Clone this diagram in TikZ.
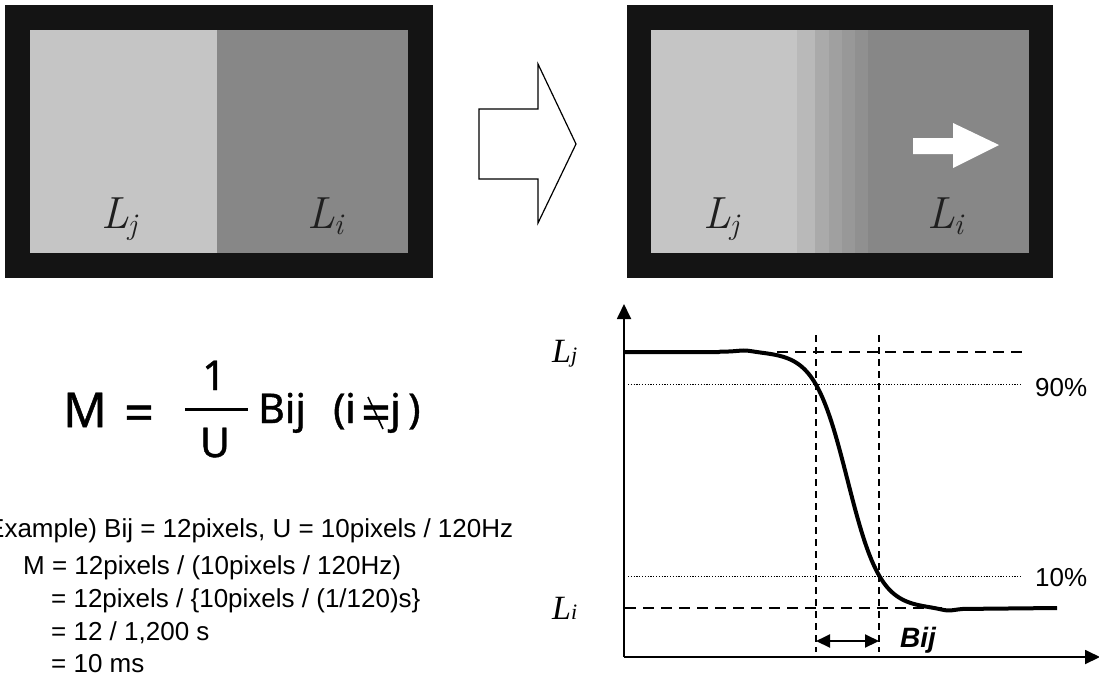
\documentclass[tikz,border=0pt]{standalone}
\usepackage{fontspec}
\newfontfamily\arial{Liberation Sans}
\newfontfamily\formfont[FakeBold=1]{Noto Sans}
\newfontfamily\timesf{Liberation Serif}
\usetikzlibrary{arrows.meta}
\definecolor{lightg}{HTML}{C5C5C5}
\definecolor{darkg}{HTML}{878787}
\definecolor{bandA}{HTML}{B9B9B9}
\definecolor{bandB}{HTML}{AAAAAA}
\definecolor{bandC}{HTML}{A0A0A0}
\definecolor{bandD}{HTML}{989898}
\definecolor{bandE}{HTML}{909090}
\newcommand{\panelL}[1]{\itshape L\kern-1pt\raisebox{-6pt}{\fontsize{30}{30}\selectfont #1}}
\tikzset{
  paneltext/.style={inner sep=0pt, anchor=base, text=black!88, font=\fontsize{45}{45}\selectfont},
  extext/.style={inner sep=0pt, anchor=base west, font=\arial\fontsize{26}{26}\selectfont},
  fm/.style={inner sep=0pt, anchor=base west, font=\formfont\fontsize{41}{41}\selectfont},
  glab/.style={inner sep=0pt, anchor=base west, font=\timesf\itshape\fontsize{34}{34}\selectfont},
  pct/.style={inner sep=0pt, anchor=west, font=\arial\fontsize{26}{26}\selectfont},
  thickcurve/.style={line width=4pt, line join=round},
  axisline/.style={line width=1.8pt, -{Triangle[length=15pt,width=14pt]}},
  refdash/.style={line width=1.6pt, dash pattern=on 11pt off 7pt},
  vdash/.style={line width=1.4pt, dash pattern=on 7pt off 5pt},
  pdot/.style={line width=1pt, dash pattern=on 1.2pt off 1.6pt},
  bijarrow/.style={line width=2pt, {Triangle[length=14pt,width=13pt]}-{Triangle[length=14pt,width=13pt]}},
  blockarrow/.style={draw=black, line width=1.2pt, fill=white, line join=miter}
}
\begin{document}
\begin{tikzpicture}[x=1pt,y=-1pt]
\useasboundingbox (0,0) rectangle (1099,678);

% ---------- left panel ----------
\fill[black!92] (5,5) rectangle (433,278);
\fill[lightg] (30,30) rectangle (217,253);
\fill[darkg] (217,30) rectangle (408,253);
\node[paneltext] (lLj) at (119,228) {\panelL{j}};
\node[paneltext] (lLi) at (325,228) {\panelL{i}};

% ---------- block arrow ----------
\draw[blockarrow] (479,109) -- (538,109) -- (538,64) -- (576,144) -- (538,223) -- (538,179) -- (479,179) -- cycle;

% ---------- right panel ----------
\fill[black!92] (627,5) rectangle (1053,278);
\fill[lightg] (651,30) rectangle (797,253);
\fill[bandA] (797,30) rectangle (815,253);
\fill[bandB] (815,30) rectangle (829,253);
\fill[bandC] (829,30) rectangle (842,253);
\fill[bandD] (842,30) rectangle (855,253);
\fill[bandE] (855,30) rectangle (868,253);
\fill[darkg] (868,30) rectangle (1029,253);
\fill[white] (913,138) -- (953,138) -- (953,123) -- (999,145) -- (953,168) -- (953,154) -- (913,154) -- cycle;
\node[paneltext] (rLj) at (721,228) {\panelL{j}};
\node[paneltext] (rLi) at (945,228) {\panelL{i}};

% ---------- formula ----------
\node[inner sep=0pt, anchor=base west, font=\formfont\fontsize{48}{48}\selectfont] (M) at (63,427) {M};
\node[inner sep=0pt, anchor=base west, font=\formfont\fontsize{52}{52}\selectfont] (eq1) at (124,431) {=};
\node[fm, anchor=base] (one) at (214,390) {1};
\node[fm, anchor=base] (U) at (215,457) {U};
\draw[line width=3pt] (185,409) -- (248,409);
\node[fm] (Bij) at (258,423) {Bij};
\node[fm] (lp) at (333,423) {(};
\node[fm] (ii) at (345,423) {i};
\node[inner sep=0pt, anchor=base west, font=\formfont\fontsize{52}{52}\selectfont] (neq) at (361,431) {=};
\draw[line width=1.6pt] (368,397) -- (383,429);
\node[fm] (jj) at (390,423) {j};
\node[fm] (rp) at (408,423) {)};

% ---------- example ----------
\node[extext] (ex1) at (-13,537) {Example) Bij = 12pixels, U = 10pixels / 120Hz};
\node[extext] (ex2) at (23,574) {M = 12pixels / (10pixels / 120Hz)};
\node[extext] (ex3) at (51,607) {= 12pixels / \{10pixels / (1/120)s\}};
\node[extext] (ex4) at (51,640) {= 12 / 1,200 s};
\node[extext] (ex5) at (51,672) {= 10 ms};

% ---------- graph ----------
\coordinate (O) at (624,657);
\coordinate (ytop) at (624,304);
\coordinate (xend) at (1100,657);
\draw[pdot] (628,384) -- (1022,384);
\draw[pdot] (628,576) -- (1022,576);
\draw[refdash] (777,352) -- (1025,352);
\draw[refdash] (625,608) -- (948,608);
\draw[vdash] (816,335) -- (816,652);
\draw[vdash] (879,335) -- (879,652);
\draw[axisline] (O) -- (ytop);
\draw[axisline] (O) -- (xend);
\draw[thickcurve] (624,352) -- (719,352) -- plot[domain=719:963, samples=140]
  (\x, {352 + 256/(1+exp(-(\x-847.5)/16.4)) - 2/(1+((\x-745)/12)^2) + 3/(1+((\x-948)/12)^2)}) -- (1057,608);
\coordinate (bA) at (816,641);
\coordinate (bB) at (879,641);
\draw[bijarrow] (bA) -- (bB);
\node[inner sep=0pt, anchor=base west, font=\arial\bfseries\itshape\fontsize{28}{28}\selectfont] (bij) at (900,647) {Bij};
\node[glab] (gLj) at (552,362) {L{\fontsize{22}{22}\selectfont j}};
\node[glab] (gLi) at (552,619) {L{\fontsize{22}{22}\selectfont i}};
\node[pct] (p90) at (1035,388) {90\%};
\node[pct] (p10) at (1035,578) {10\%};
\end{tikzpicture}
\end{document}
